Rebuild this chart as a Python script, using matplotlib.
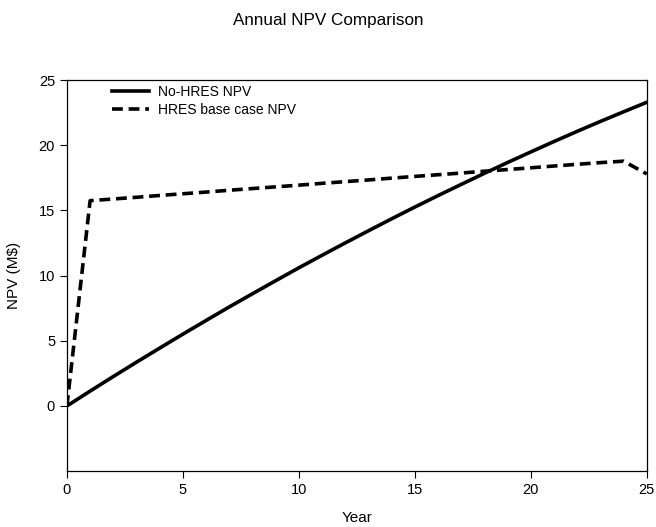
import matplotlib
matplotlib.use('Agg')
import matplotlib.pyplot as plt

plt.rcParams['font.family'] = ['Liberation Sans', 'DejaVu Sans']

years = list(range(26))
no_hres_npv = [0.0, 1.14, 2.26, 3.36, 4.44, 5.51, 6.56, 7.60, 8.61, 9.61,
               10.60, 11.56, 12.51, 13.44, 14.36, 15.26, 16.14, 17.00, 17.85,
               18.68, 19.49, 20.29, 21.07, 21.83, 22.57, 23.30]
hres_npv = [0.0, 15.75, 15.88, 16.01, 16.15, 16.28, 16.41, 16.55, 16.68, 16.81,
            16.94, 17.08, 17.21, 17.34, 17.48, 17.61, 17.74, 17.87, 18.01,
            18.14, 18.27, 18.41, 18.54, 18.67, 18.78, 17.80]

fig = plt.figure(figsize=(6.56, 5.27), dpi=100)
ax = fig.add_axes([0.102, 0.106, 0.884, 0.742])

ax.plot(years, no_hres_npv, color='black', lw=2.6, label='No-HRES NPV')
ax.plot(years, hres_npv, color='black', lw=2.6, dashes=(3, 1.6), label='HRES base case NPV')

ax.set_xlim(0, 25)
ax.set_ylim(-5, 25)
ax.set_xticks([0, 5, 10, 15, 20, 25])
ax.set_yticks([0, 5, 10, 15, 20, 25])
ax.tick_params(direction='out', length=5, labelsize=10.5)
for s in ax.spines.values():
    s.set_linewidth(0.9)

fig.text(0.5, 1 - 20 / 527, 'Annual NPV Comparison', fontsize=12.3,
         ha='center', va='center')
ax.set_xlabel('Year', fontsize=11, labelpad=10)
ax.set_ylabel('NPV (M$)', fontsize=11, labelpad=13)

ax.legend(loc='upper left', bbox_to_anchor=(0.057, 1.02), frameon=False,
          fontsize=10, handlelength=2.6, handletextpad=0.7, labelspacing=0.3)

fig.savefig('out.png', dpi=100)
